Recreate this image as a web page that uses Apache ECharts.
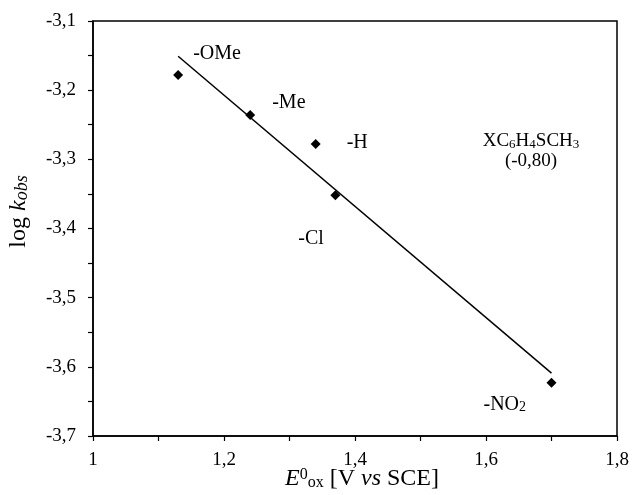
<!DOCTYPE html>
<html>
<head>
<meta charset="utf-8">
<script src="https://cdn.jsdelivr.net/npm/echarts@6/dist/echarts.min.js"></script>
<style>
html,body{margin:0;padding:0;background:#fff;}
#chart{width:633px;height:495px;}
</style>
</head>
<body>
<div id="chart"></div>
<script>
// Data
const substituents = ['-OMe', '-Me', '-H', '-Cl', '-NO{lsub|2}'];
const eox = [1.13, 1.24, 1.34, 1.37, 1.70];
const logk = [-3.178, -3.236, -3.278, -3.352, -3.623];
const fitX = [1.13, 1.70];
const fitY = [-3.151, -3.609];
const annotationLines = ['{n|XC}{sub|6}{n|H}{sub|4}{n|SCH}{sub|3}', '{n|(-0,80)}'];
const labelOffsets = [[15, -21], [22, -12], [31, -1], [-37, 43], [-68, 22]];

const FONT = 'Liberation Serif';
const FS = 19;
const rich = {
  n: {fontFamily: FONT, fontSize: FS, color: '#000', lineHeight: 20},
  l: {fontFamily: FONT, fontSize: 20, color: '#000', lineHeight: 20},
  lsub: {fontFamily: FONT, fontSize: 14, color: '#000', lineHeight: 6, verticalAlign: 'bottom'},
  sub: {fontFamily: FONT, fontSize: 13, color: '#000', lineHeight: 6, verticalAlign: 'bottom'},
  tn: {fontFamily: FONT, fontSize: 24, color: '#000', lineHeight: 24},
  ti: {fontFamily: FONT, fontSize: 24, color: '#000', fontStyle: 'italic', lineHeight: 24},
  tsub: {fontFamily: FONT, fontSize: 16, color: '#000', lineHeight: 8, verticalAlign: 'bottom'},
  tisub: {fontFamily: FONT, fontSize: 18, color: '#000', fontStyle: 'italic', lineHeight: 8, verticalAlign: 'bottom'},
  tsup: {fontFamily: FONT, fontSize: 16, color: '#000', lineHeight: 10, verticalAlign: 'top'}
};

const fmt = v => (Math.round(v * 10) / 10).toString().replace('.', ',');

const chart = echarts.init(document.getElementById('chart'));
chart.setOption({
  backgroundColor: '#fff',
  animation: false,
  grid: {left: 93, right: 16, top: 21, bottom: 59, outerBoundsMode: 'none', containLabel: false,
         show: true, borderColor: '#000', borderWidth: 1.5, backgroundColor: 'transparent'},
  xAxis: {
    type: 'value', min: 1, max: 1.8, interval: 0.2,
    axisLine: {show: true, lineStyle: {color: '#000', width: 1.5}},
    axisTick: {show: true, length: 5, lineStyle: {color: '#000', width: 1.2}},
    minorTick: {show: true, splitNumber: 2, length: 5, lineStyle: {color: '#000', width: 1.2}},
    splitLine: {show: false},
    axisLabel: {formatter: fmt, fontFamily: FONT, fontSize: FS, color: '#000', margin: 15},
    name: '{ti|E}{tsup|0}{tsub|ox}{tn| [V }{ti|vs}{tn| SCE]}',
    nameLocation: 'middle', nameGap: 31, nameMoveOverlap: false,
    nameTextStyle: {rich: rich, padding: [0, 0, 0, 14]}
  },
  yAxis: {
    type: 'value', min: -3.7, max: -3.1, interval: 0.1,
    axisLine: {show: true, onZero: false, lineStyle: {color: '#000', width: 1.5}},
    axisTick: {show: true, length: 5, lineStyle: {color: '#000', width: 1.2}},
    minorTick: {show: true, splitNumber: 2, length: 5, lineStyle: {color: '#000', width: 1.2}},
    splitLine: {show: false},
    axisLabel: {formatter: fmt, fontFamily: FONT, fontSize: FS, color: '#000', margin: 17},
    name: '{tn|log }{ti|k}{tisub|obs}',
    nameLocation: 'middle', nameGap: 62, nameRotate: 90, nameMoveOverlap: false,
    nameTextStyle: {rich: rich, padding: [0, 0, 0, 34]}
  },
  series: [
    {
      type: 'line',
      data: fitX.map((x, i) => [x, fitY[i]]),
      showSymbol: false, symbol: 'none',
      lineStyle: {color: '#000', width: 1.5},
      silent: true, z: 2
    },
    {
      type: 'scatter',
      symbol: 'diamond', symbolSize: 10,
      itemStyle: {color: '#000', opacity: 1},
      z: 3,
      data: eox.map((x, i) => ({
        value: [x, logk[i]],
        label: {
          show: true, position: 'inside', align: 'left', verticalAlign: 'middle',
          offset: labelOffsets[i], formatter: substituents[i].replace(/^([^{]+)/, '{l|$1}'),
          rich: rich
        }
      }))
    }
  ],
  graphic: [{
    type: 'text', x: 531, y: 151,
    style: {text: annotationLines.join('\n'), rich: rich, align: 'center', verticalAlign: 'middle', fill: '#000'}
  }]
});
</script>
</body>
</html>
